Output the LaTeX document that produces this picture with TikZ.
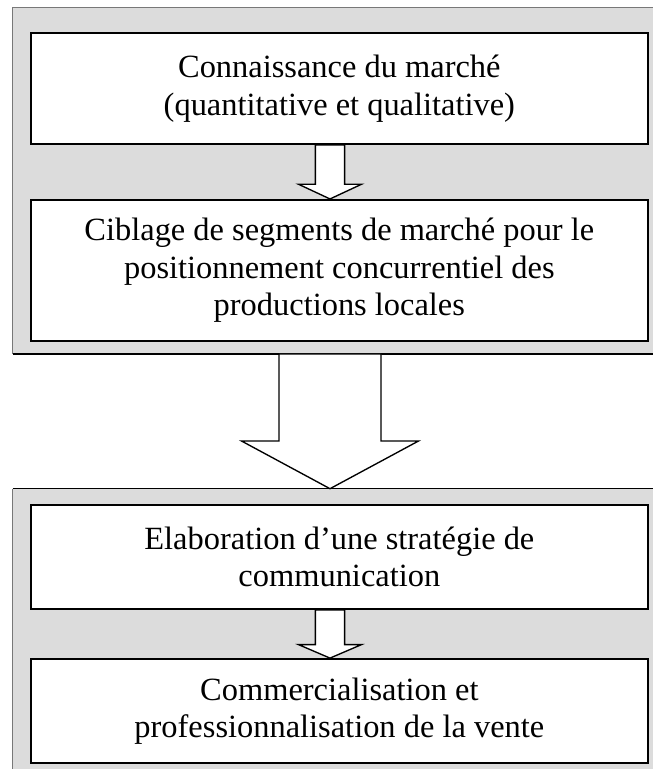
\documentclass[tikz,border=0pt]{standalone}
\usepackage{fontspec}
\setmainfont{Liberation Serif}
\usetikzlibrary{calc}

\definecolor{fond}{RGB}{220,220,220}
\definecolor{bord}{RGB}{120,120,120}

\tikzset{
  panneau/.style={fill=fond, inner sep=0pt, minimum width=237pt, anchor=north west},
  boite/.style={draw, fill=white, line width=0.74pt, inner sep=0pt,
    minimum width=228.4pt, align=center,
    font=\fontsize{12}{13.9}\selectfont},
  fleche/.style={draw, fill=white, line width=0.5pt, line join=miter}
}

% fleche pleine : depart, arrivee, demi-tige, demi-tete, longueur tete
\newcommand{\flechepleine}[5]{%
  \draw[fleche] ($(#1)+(-#3,0)$) -- ($(#2)+(-#3,-#5)$) -- ($(#2)+(-#4,-#5)$)
    -- (#2) -- ($(#2)+(#4,-#5)$) -- ($(#2)+(#3,-#5)$) -- ($(#1)+(#3,0)$) -- cycle;
}

\begin{document}
\begin{tikzpicture}[x=0.37pt, y=-0.37pt]
  \useasboundingbox (0,0) rectangle (653,769);
  \coordinate (axe) at (330,0);

  % panneaux gris
  \node[panneau, minimum height=127.8pt] (panelA) at (12.5,7.5) {};
  \draw[bord] (panelA.south west) -- (panelA.north west) -- (panelA.north east);
  \draw[line width=0.4pt] (panelA.south west) -- (panelA.south east);

  \node[panneau, minimum height=104pt] (panelB) at (12.5,488.7) {};
  \draw[bord] (panelB.south west) -- (panelB.north west);
  \draw[line width=0.4pt] (panelB.north west) -- (panelB.north east);

  % boites
  \node[boite, minimum height=41.1pt] (marche) at (339.35,88.5)
    {Connaissance du march\'e\\(quantitative et qualitative)};
  \node[boite, minimum height=52.2pt] (ciblage) at (339.35,270.5)
    {Ciblage de segments de march\'e pour le\\positionnement concurrentiel des\\productions locales};
  \node[boite, minimum height=38.5pt] (strategie) at (339.35,557)
    {Elaboration d’une strat\'egie de\\communication};
  \node[boite, minimum height=38.4pt] (vente) at (339.35,711)
    {Commercialisation et\\professionnalisation de la vente};

  % fleches
  \flechepleine{marche.south -| axe}{ciblage.north -| axe}{14.6}{31.5}{14.7}
  \flechepleine{panelA.south -| axe}{panelB.north -| axe}{51}{88.5}{47.7}
  \flechepleine{strategie.south -| axe}{vente.north -| axe}{14.6}{31.5}{13.5}
\end{tikzpicture}
\end{document}
